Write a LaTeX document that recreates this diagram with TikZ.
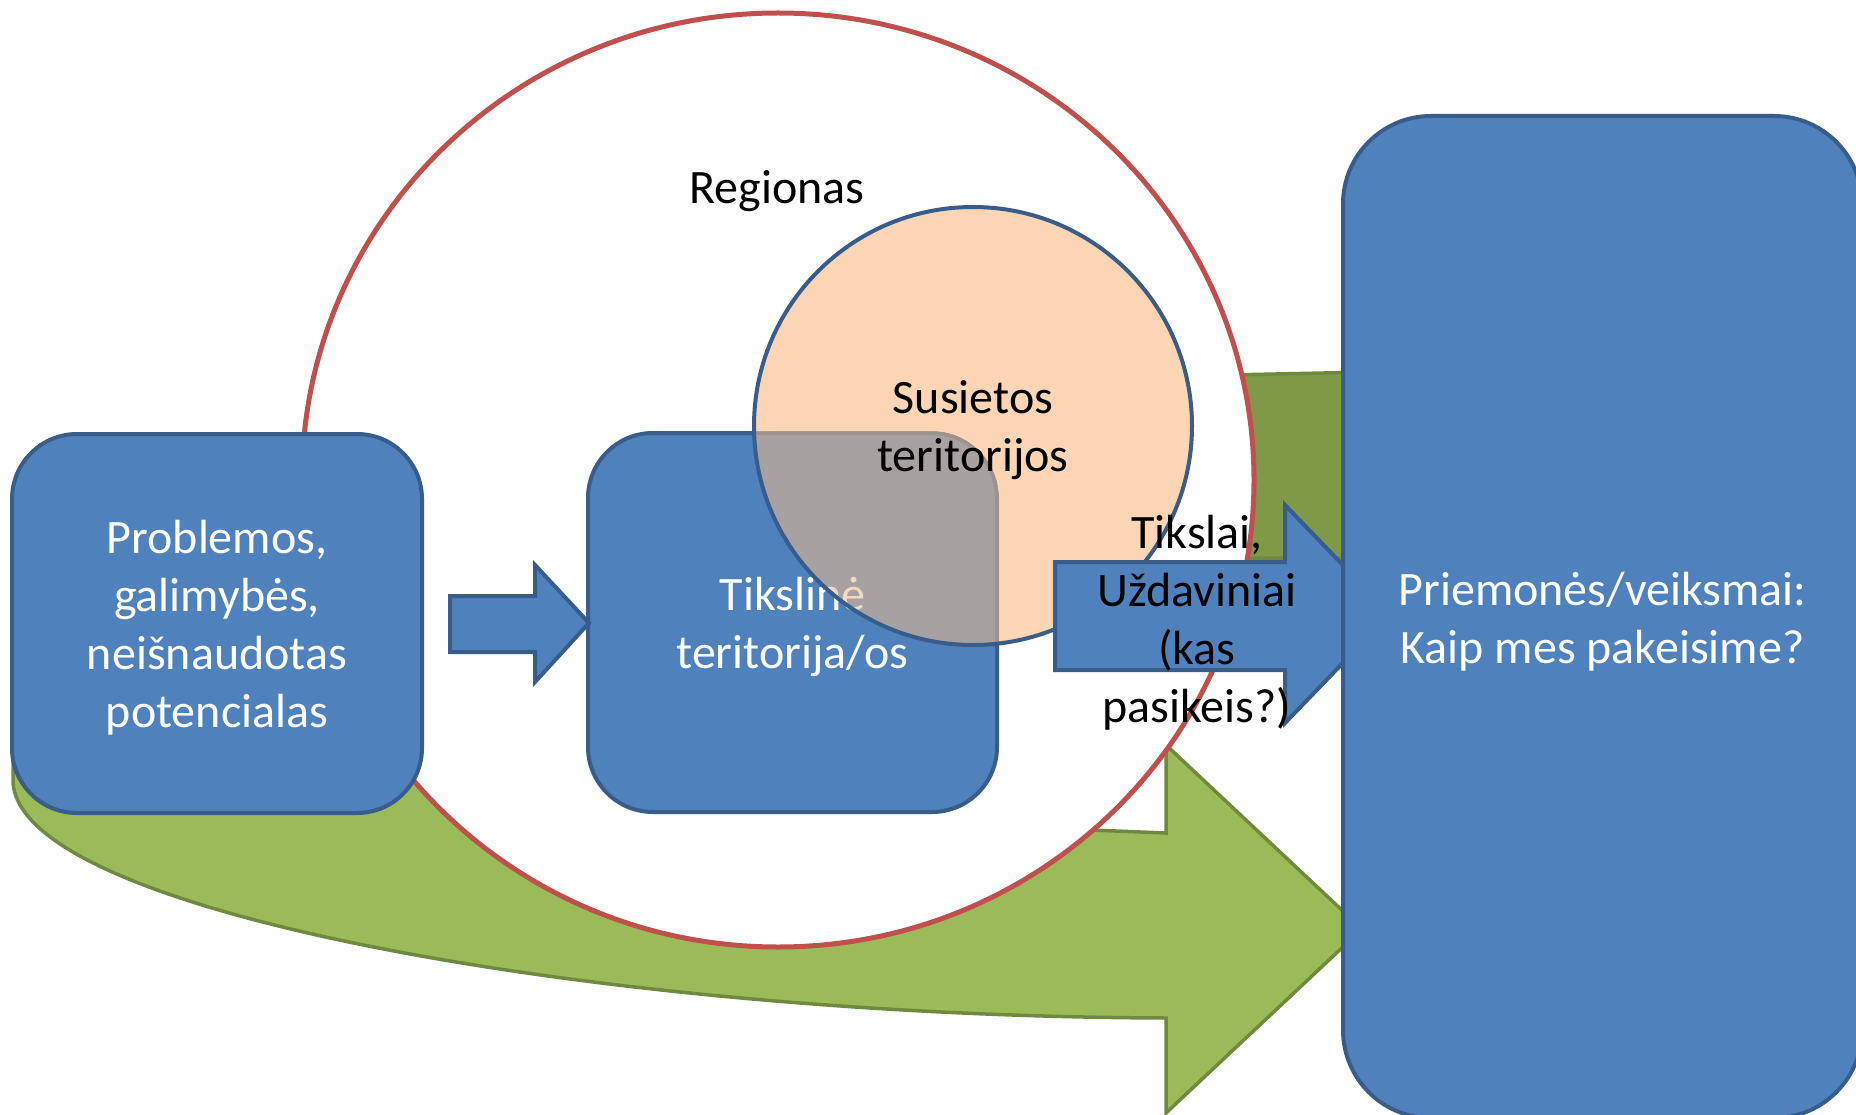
\documentclass[tikz,border=0pt]{standalone}
\usepackage{fontspec}
\setmainfont{Carlito}
\definecolor{boxblue}{HTML}{4F81BD}
\definecolor{boxedge}{HTML}{385D8A}
\definecolor{regred}{HTML}{C0504D}
\definecolor{peach}{HTML}{FCD5B5}
\definecolor{peachbase}{RGB}{237,187,143}
\definecolor{lgreen}{HTML}{9BBB59}
\definecolor{dgreen}{HTML}{7F9947}
\definecolor{gedge}{HTML}{71893F}
\begin{document}
\begin{tikzpicture}[x=1pt,y=-1pt,
  every node/.style={font=\fontsize{48}{58}\selectfont, align=center, inner sep=0pt},
  bluebox/.style={draw=boxedge, line width=4pt, fill=boxblue, rounded corners=#1},
  whitetext/.style={text=white},
  blockarrow/.style={draw=boxedge, line width=4pt, fill=boxblue, line join=miter},
  greenshape/.style={draw=gedge, line width=3.5pt, line join=miter},
]
\useasboundingbox (0,0) rectangle (1856,1115);

% curved green arrow: dark back face (visible part only at upper right)
\path[greenshape, fill=dgreen] (1420,371) -- (1180,376) -- (1180,558) -- (1420,558) -- cycle;
% curved green arrow: light front face with head
\path[greenshape, fill=lgreen] (1166,833) -- (1166,745) -- (1362,929) -- (1166,1113) -- (1166,1018)
  .. controls (600,1016) and (13,912) .. (13,780) -- (13,600) -- (300,600) -- (500,760) -- (1090,830) -- cycle;

% region ellipse
\draw[regred, line width=5pt, fill=white] (778,480) ellipse [x radius=476, y radius=467];

% left box, small arrow, target box
\node[bluebox=65pt, minimum width=410pt, minimum height=379pt] (prob) at (217,623.5) {};
\node[whitetext] (probtxt) at ([yshift=-4.5pt]prob.center) {Problemos,\\galimybės,\\neišnaudotas\\potencialas};
\node[bluebox=65pt, minimum width=409pt, minimum height=379pt] (tiks) at (792.5,622.5) {};
\node[whitetext] (tikstxt) at ([yshift=-4.5pt]tiks.center) {Tikslinė\\teritorija/os};
\path[blockarrow] (450,596) -- (535,596) -- (535,565) -- (589,623) -- (535,682) -- (535,652) -- (450,652) -- cycle;

% linked territories circle (semi-transparent over the target box)
\node[circle, fill=peachbase, fill opacity=0.57, minimum size=438pt] (sus) at (973,426) {};
\begin{scope}
  \clip (sus.center) circle [radius=219];
  \fill[peach, even odd rule] (0,0) rectangle (1856,1115)
    [rounded corners=67pt] (586,431) rectangle (999,814);
\end{scope}
\draw[boxedge, line width=4pt] (sus.center) circle [radius=219];
\node (sustxt) at ([yshift=-4.5pt]sus.center) {Susietos\\teritorijos};

% goals arrow
\path[blockarrow] (1055,562) -- (1285,562) -- (1285,505) -- (1390,614) -- (1285,723) -- (1285,670) -- (1055,670) -- cycle;
\node (goal) at (1197,622.5) {Tikslai,\\Uždaviniai\\(kas\\pasikeis?)};

\node (reg) at (777,191.5) {Regionas};

% measures box
\node[bluebox=88pt, minimum width=519pt, minimum height=1002pt] (prie) at (1602.5,617) {};
\node[whitetext] (prietxt) at ([yshift=-4.5pt]prie.center) {Priemonės/veiksmai:\\Kaip mes pakeisime?};
\end{tikzpicture}
\end{document}
